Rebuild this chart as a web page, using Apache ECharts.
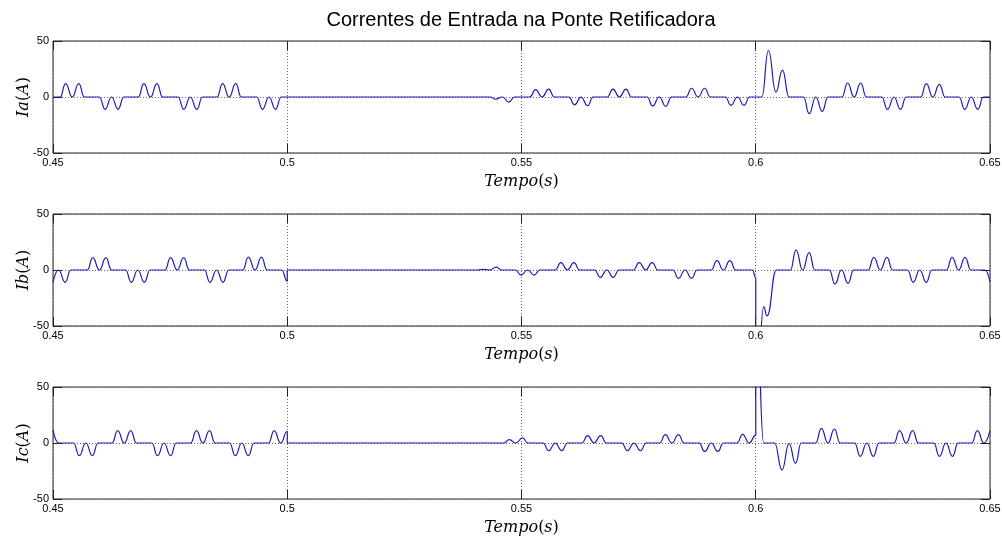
<!DOCTYPE html>
<html>
<head>
<meta charset="utf-8">
<title>Correntes de Entrada na Ponte Retificadora</title>
<script src="https://cdn.jsdelivr.net/npm/echarts@6/dist/echarts.min.js"></script>
<style>
  html, body { margin: 0; padding: 0; background: #ffffff; }
  #chart { width: 1002px; height: 536px; }
</style>
</head>
<body>
<div id="chart"></div>
<script>
// Rectifier-bridge input currents, samples as [time (s), current (A)].
const iaSamples = [
  [0.4500, 0],
  [0.4515, 0], [0.4527, 12], [0.4541, 0], [0.4555, 12], [0.4567, 0],
  [0.4599, 0], [0.4611, -11], [0.4625, 0], [0.4639, -11], [0.4651, 0],
  [0.4682, 0], [0.4694, 12], [0.4708, 0], [0.4722, 12], [0.4734, 0],
  [0.4767, 0], [0.4779, -11], [0.4793, 0], [0.4807, -11], [0.4819, 0],
  [0.4850, 0], [0.4862, 12], [0.4876, 0], [0.4890, 12], [0.4902, 0],
  [0.4935, 0], [0.4947, -11], [0.4961, 0], [0.4975, -11], [0.4987, 0],
  [0.5433, 0], [0.5445, -2], [0.5459, 0], [0.5473, -4.5], [0.5485, 0],
  [0.5518, 0], [0.5530, 6.6], [0.5544, 0], [0.5558, 7], [0.5570, 0],
  [0.5601, 0], [0.5613, -7], [0.5627, 0], [0.5641, -7.7], [0.5653, 0],
  [0.5683, 0], [0.5695, 7], [0.5709, 0], [0.5723, 7], [0.5735, 0],
  [0.5768, 0], [0.5780, -8], [0.5794, 0], [0.5808, -8.3], [0.5820, 0],
  [0.5851, 0], [0.5863, 7.8], [0.5877, 0], [0.5891, 7.8], [0.5903, 0],
  [0.5935, 0], [0.5947, -7.4], [0.5961, 0], [0.5975, -7.4], [0.5987, 0],
  [0.6013, 0], [0.6027, 41.5], [0.6043, 4.5], [0.6057, 24], [0.6071, 0],
  [0.6102, 0], [0.6114, -14.8], [0.6128, 0], [0.6142, -12.8], [0.6154, 0],
  [0.6184, 0], [0.6196, 12.5], [0.6210, 0], [0.6224, 12.5], [0.6236, 0],
  [0.6269, 0], [0.6281, -11], [0.6295, 0], [0.6309, -11], [0.6321, 0],
  [0.6352, 0], [0.6364, 12], [0.6378, 0], [0.6392, 11.3], [0.6404, 0],
  [0.6434, 0], [0.6446, -11], [0.6460, 0], [0.6474, -11], [0.6486, 0],
  [0.6500, 0]
];

const ibSamples = [
  [0.4500, -11], [0.4512, 0], [0.4526, -11], [0.4538, 0],
  [0.4573, 0], [0.4585, 11], [0.4599, 0], [0.4613, 11], [0.4625, 0],
  [0.4655, 0], [0.4667, -11], [0.4681, 0], [0.4695, -11], [0.4707, 0],
  [0.4739, 0], [0.4751, 11], [0.4765, 0], [0.4779, 11], [0.4791, 0],
  [0.4823, 0], [0.4835, -11], [0.4849, 0], [0.4863, -11], [0.4875, 0],
  [0.4905, 0], [0.4917, 11.5], [0.4931, 0], [0.4945, 11.5], [0.4957, 0],
  [0.4988, 0], [0.5000, -10], [0.5000, 0],
  [0.5406, 0], [0.5418, 0.6], [0.5432, 0], [0.5446, 2.5], [0.5458, 0],
  [0.5487, 0], [0.5499, -4.5], [0.5513, 0], [0.5527, -4.5], [0.5539, 0],
  [0.5572, 0], [0.5584, 6.5], [0.5598, 0], [0.5612, 6.5], [0.5624, 0],
  [0.5656, 0], [0.5668, -6.5], [0.5682, 0], [0.5696, -6.5], [0.5708, 0],
  [0.5739, 0], [0.5751, 6.5], [0.5765, 0], [0.5779, 6.5], [0.5791, 0],
  [0.5823, 0], [0.5835, -7.4], [0.5849, 0], [0.5863, -7.4], [0.5875, 0],
  [0.5905, 0], [0.5917, 8.3], [0.5931, 0], [0.5945, 8.3], [0.5957, 0],
  [0.5993, 0], [0.6000, -7], [0.6000, -100], [0.6003, -100], [0.6017, -33], [0.6024, -41], [0.6044, 0],
  [0.6074, 0], [0.6086, 18], [0.6100, 0], [0.6114, 15.5], [0.6126, 0],
  [0.6157, 0], [0.6169, -12.5], [0.6183, 0], [0.6197, -12], [0.6209, 0],
  [0.6240, 0], [0.6252, 11.3], [0.6266, 0], [0.6280, 11.3], [0.6292, 0],
  [0.6324, 0], [0.6336, -11], [0.6350, 0], [0.6364, -11], [0.6376, 0],
  [0.6407, 0], [0.6419, 11.3], [0.6433, 0], [0.6447, 11.3], [0.6459, 0],
  [0.6489, 0], [0.6500, -10.5]
];

const icSamples = [
  [0.4500, 11.5], [0.4512, 0],
  [0.4544, 0], [0.4556, -11.3], [0.4570, 0], [0.4584, -11.3], [0.4596, 0],
  [0.4626, 0], [0.4638, 11], [0.4652, 0], [0.4666, 11], [0.4678, 0],
  [0.4711, 0], [0.4723, -11.3], [0.4737, 0], [0.4751, -11.3], [0.4763, 0],
  [0.4794, 0], [0.4806, 11], [0.4820, 0], [0.4834, 11], [0.4846, 0],
  [0.4877, 0], [0.4889, -11.3], [0.4903, 0], [0.4917, -11.3], [0.4929, 0],
  [0.4960, 0], [0.4972, 11], [0.4986, 0], [0.5000, 10.5], [0.5000, 0],
  [0.5462, 0], [0.5474, 3], [0.5488, 0], [0.5502, 4.5], [0.5514, 0],
  [0.5546, 0], [0.5558, -6.9], [0.5572, 0], [0.5586, -6.9], [0.5598, 0],
  [0.5629, 0], [0.5641, 6.5], [0.5655, 0], [0.5669, 6.5], [0.5681, 0],
  [0.5714, 0], [0.5726, -6.9], [0.5740, 0], [0.5754, -6.9], [0.5766, 0],
  [0.5795, 0], [0.5807, 7.4], [0.5821, 0], [0.5835, 7.4], [0.5847, 0],
  [0.5879, 0], [0.5891, -7.5], [0.5905, 0], [0.5919, -7.5], [0.5931, 0],
  [0.5960, 0], [0.5972, 7.7], [0.5986, 0], [0.6000, 7], [0.6000, 100], [0.6003, 100], [0.6017, 0],
  [0.6040, 0], [0.6056, -24], [0.6071, -0.5], [0.6085, -18.2], [0.6097, 0],
  [0.6128, 0], [0.6140, 13], [0.6154, 0], [0.6168, 12.5], [0.6180, 0],
  [0.6211, 0], [0.6223, -12], [0.6237, 0], [0.6251, -12], [0.6263, 0],
  [0.6295, 0], [0.6307, 11], [0.6321, 0], [0.6335, 11], [0.6347, 0],
  [0.6380, 0], [0.6392, -12], [0.6406, 0], [0.6420, -12], [0.6432, 0],
  [0.6461, 0], [0.6473, 11], [0.6487, 0], [0.6500, 11]
];

const phaseNames = ['Ia', 'Ib', 'Ic'];
const timeTicks = [0.45, 0.5, 0.55, 0.6, 0.65];
const currentTicks = [-50, 0, 50];
const chartTitle = 'Correntes de Entrada na Ponte Retificadora';

const phaseSamples = [iaSamples, ibSamples, icSamples];

// ---- layout & styling ----
const gridTops = [41, 214, 387];
const frameColor = '#222222';
const gridDots = { color: '#666666', width: 1, type: [1, 2] };
const traceColor = '#1c1cb4';
const timeStep = Math.round((timeTicks[1] - timeTicks[0]) * 1000) / 1000;
const currentStep = currentTicks[1] - currentTicks[0];
const labelFont = 'Liberation Sans, Arial, sans-serif';

const mathRich = {
  i: { fontFamily: 'DejaVu Serif', fontStyle: 'italic', fontSize: 16, color: '#000' },
  n: { fontFamily: 'DejaVu Serif', fontSize: 16, color: '#000' }
};

const grids = [];
const xAxes = [];
const yAxes = [];
const series = [];

gridTops.forEach((top, i) => {
  grids.push({
    left: 53, top: top, width: 937, height: 112,
    outerBoundsMode: 'none',
    containLabel: false,
    show: true, borderColor: frameColor, borderWidth: 1,
    backgroundColor: 'transparent'
  });

  const xBase = {
    gridIndex: i, type: 'value',
    min: timeTicks[0], max: timeTicks[timeTicks.length - 1], interval: timeStep,
    axisLine: { show: false, onZero: false },
    axisTick: { show: true, inside: true, length: 9, lineStyle: { color: frameColor, width: 1 } }
  };
  // bottom axis: labels, dotted grid, name
  xAxes.push(Object.assign({}, xBase, {
    position: 'bottom',
    axisLabel: { show: true, margin: 4, fontSize: 11, color: '#000', fontFamily: labelFont },
    splitLine: { show: true, lineStyle: gridDots },
    name: '{i|Tempo}{n|(}{i|s}{n|)}',
    nameLocation: 'middle', nameGap: 21,
    nameMoveOverlap: false,
    nameTextStyle: { rich: mathRich }
  }));
  // top axis: inward ticks only
  xAxes.push(Object.assign({}, xBase, {
    position: 'top',
    axisLabel: { show: false },
    splitLine: { show: false }
  }));

  const yBase = {
    gridIndex: i, type: 'value',
    min: currentTicks[0], max: currentTicks[currentTicks.length - 1], interval: currentStep,
    axisLine: { show: false, onZero: false },
    axisTick: { show: true, inside: true, length: 9, lineStyle: { color: frameColor, width: 1 } }
  };
  yAxes.push(Object.assign({}, yBase, {
    position: 'left',
    axisLabel: { show: true, margin: 4, fontSize: 11, color: '#000', fontFamily: labelFont },
    splitLine: { show: true, lineStyle: gridDots },
    name: '{i|' + phaseNames[i] + '}{n|(}{i|A}{n|)}',
    nameLocation: 'middle', nameGap: 21, nameRotate: 90,
    nameMoveOverlap: false,
    nameTextStyle: { rich: mathRich }
  }));
  yAxes.push(Object.assign({}, yBase, {
    position: 'right',
    axisLabel: { show: false },
    splitLine: { show: false }
  }));

  series.push({
    name: phaseNames[i],
    type: 'line',
    xAxisIndex: 2 * i,
    yAxisIndex: 2 * i,
    data: phaseSamples[i],
    showSymbol: false,
    smooth: 0.5,
    smoothMonotone: 'x',
    clip: true,
    silent: true,
    lineStyle: { color: traceColor, width: 1.2 },
    z: 3
  });
});

const chart = echarts.init(document.getElementById('chart'), null, { renderer: 'canvas' });
chart.setOption({
  animation: false,
  backgroundColor: '#ffffff',
  title: {
    text: chartTitle,
    left: 521, top: 10, padding: 0,
    textAlign: 'center',
    textStyle: { fontFamily: labelFont, fontSize: 20, fontWeight: 'normal', color: '#000' }
  },
  grid: grids,
  xAxis: xAxes,
  yAxis: yAxes,
  series: series
});
</script>
</body>
</html>
